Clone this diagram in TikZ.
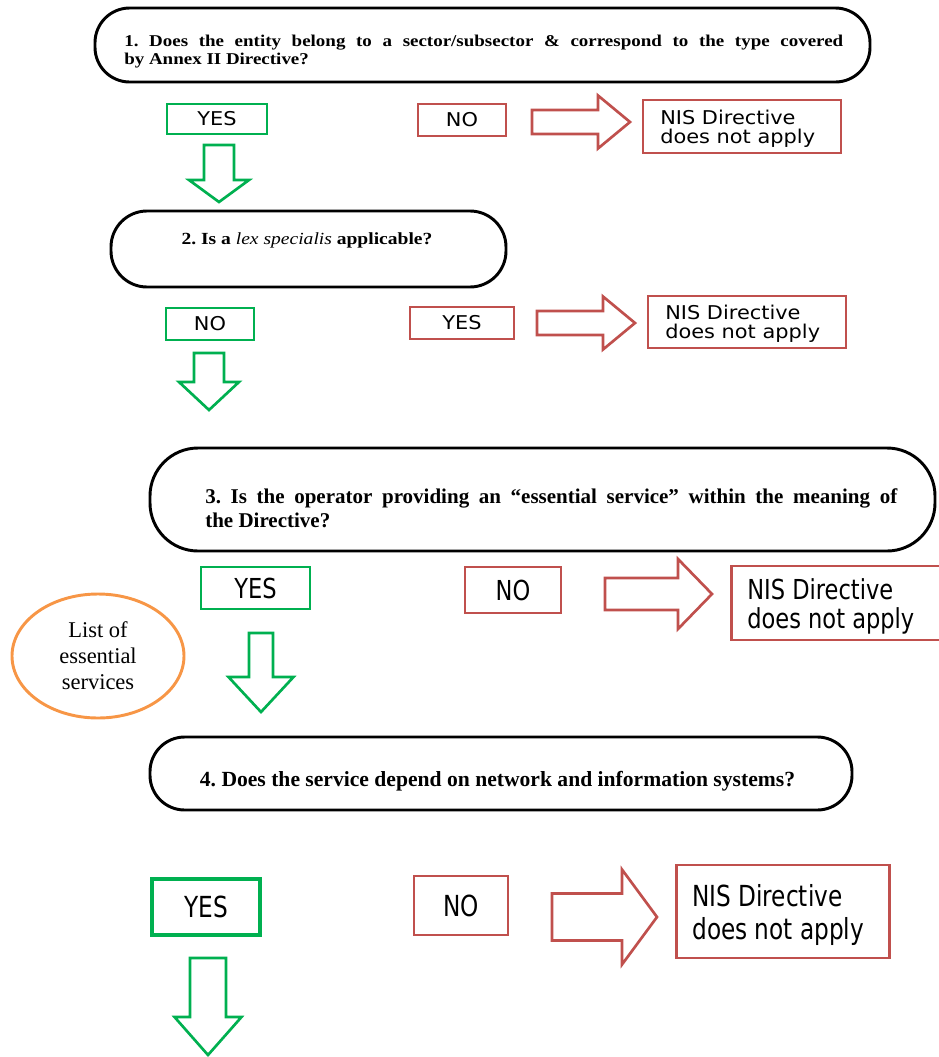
\documentclass[tikz,border=0pt]{standalone}
\usepackage{fontspec}
\setmainfont{Liberation Serif}
\newfontfamily\wideserif[FakeStretch=1.15]{Liberation Serif}
\newfontfamily\boxsans[FakeStretch=1.1]{DejaVu Sans}
\newfontfamily\boxsansnarrow[FakeStretch=0.82]{DejaVu Sans}
\newfontfamily\boxsanslow[FakeStretch=0.8]{DejaVu Sans}
\usetikzlibrary{shapes.geometric}
\definecolor{okgreen}{RGB}{0,176,80}
\definecolor{nored}{RGB}{192,80,77}
\definecolor{listorange}{RGB}{247,150,70}
\frenchspacing

% font size given in picture pixels (1px = 0.75pt)
\newcommand\pxfont[2]{\fontsize{\dimexpr #1pt*3/4\relax}{\dimexpr #2pt*3/4\relax}\selectfont}

% hollow arrow pointing right: x-start, x-tip, x of head base, y-centre, half shaft, half head
\newcommand\hollowright[7][nored]{%
  \draw[arrowline, draw=#1] ({#2},{#5-#6}) -- ({#4},{#5-#6}) -- ({#4},{#5-#7}) -- ({#3},{#5})
    -- ({#4},{#5+#7}) -- ({#4},{#5+#6}) -- ({#2},{#5+#6}) -- cycle;}
% hollow arrow pointing down: y-start, y-tip, y of head base, x-centre, half shaft, half head
\newcommand\hollowdown[7][okgreen]{%
  \draw[arrowline, draw=#1] ({#5-#6},{#2}) -- ({#5-#6},{#4}) -- ({#5-#7},{#4}) -- ({#5},{#3})
    -- ({#5+#7},{#4}) -- ({#5+#6},{#4}) -- ({#5+#6},{#2}) -- cycle;}

\begin{document}
\begin{tikzpicture}[x=0.75pt,y=-0.75pt,
  question/.style={draw=black, line width=2.2pt, inner sep=0pt},
  greenbox/.style={draw=okgreen, line width=2.2pt, inner sep=0pt, font=\boxsans\pxfont{19}{20}},
  redbox/.style={draw=nored, line width=2.2pt, inner sep=0pt, font=\boxsans\pxfont{19}{20}},
  nisbox/.style={draw=nored, line width=2.2pt, inner sep=0pt},
  nistext/.style={align=left, inner sep=0pt, anchor=west},
  arrowline/.style={line width=2pt, line join=miter, fill=white},
]
\useasboundingbox (0,0) rectangle (939,1057);

% ---------- question 1 ----------
\node[question, rounded corners=26pt, minimum width=581.25pt, minimum height=55.5pt] (q1) at (482.5,45) {};
\node[text width=539.25pt, align=justify, inner sep=0pt, anchor=north west,
      font=\wideserif\bfseries\pxfont{16.5}{18}] (q1t) at (124,35)
  {1. Does the entity belong to a sector/subsector \& correspond to the type covered\linebreak by Annex II Directive?};

\node[greenbox, minimum width=75pt, minimum height=22.5pt] (yes1) at (217,119) {YES};
\node[redbox, minimum width=66pt, minimum height=24pt] (no1) at (462,120) {NO};
\hollowright{532}{630}{598}{122}{12}{26.5}
\node[nisbox, minimum width=148.5pt, minimum height=39.75pt] (nis1) at (742,126.5) {};
\node[nistext, font=\boxsans\pxfont{19}{19}] (nis1t) at (660,128.5) {NIS Directive\\does not apply};
\hollowdown{145}{202}{180}{219}{15}{30}

% ---------- question 2 ----------
\node[question, rounded corners=27pt, minimum width=296.25pt, minimum height=57pt] (q2) at (308.5,249) {};
\node[inner sep=0pt, font=\wideserif\pxfont{17}{18}] (q2t) at (307,240)
  {\textbf{2. Is a} \textit{lex specialis} \textbf{applicable?}};

\node[greenbox, minimum width=66pt, minimum height=24pt] (no2) at (210,324) {NO};
\node[redbox, minimum width=78pt, minimum height=24pt] (yes2) at (462,323) {YES};
\hollowright{537}{635}{603}{323}{12}{26.5}
\node[nisbox, minimum width=148.5pt, minimum height=39pt] (nis2) at (747,322) {};
\node[nistext, font=\boxsans\pxfont{19}{19}] (nis2t) at (665,324) {NIS Directive\\does not apply};
\hollowdown{353}{410}{382}{209}{15}{30}

% ---------- question 3 ----------
\node[question, rounded corners=36pt, minimum width=588.75pt, minimum height=77.25pt] (q3) at (542.5,499.5) {};
\node[text width=519pt, align=justify, inner sep=0pt, anchor=north west,
      font=\bfseries\pxfont{21}{24}] (q3t) at (205,488)
  {3. Is the operator providing an “essential service” within the meaning of\linebreak the Directive?};

\node[greenbox, font=\boxsansnarrow\pxfont{27.5}{29}, minimum width=81.75pt, minimum height=31.5pt] (yes3) at (255.5,588) {YES};
\node[redbox, font=\boxsansnarrow\pxfont{27.5}{29}, minimum width=72pt, minimum height=34.5pt] (no3) at (513,590) {NO};
\hollowright{605}{712}{678}{594}{16}{35}
\node[nisbox, anchor=west, minimum width=177.5pt, minimum height=55.5pt] (nis3) at (730,603) {};
\node[nistext, font=\boxsansnarrow\pxfont{27.5}{29}] (nis3t) at (747,606) {NIS Directive\\does not apply};

\node[draw=listorange, line width=2.2pt, ellipse, minimum width=129pt, minimum height=93pt, inner sep=0pt,
      align=center, font=\pxfont{22.5}{26}] (list) at (98,656)
  {List of\\essential\\services};
\hollowdown{633}{712}{677}{261}{12}{32.5}

% ---------- question 4 ----------
\node[question, rounded corners=26pt, minimum width=526.5pt, minimum height=54.75pt] (q4) at (501,773.5) {};
\node[inner sep=0pt, font=\bfseries\pxfont{21.6}{24}] (q4t) at (497.5,781)
  {4. Does the service depend on network and information systems?};

\node[greenbox, line width=3.6pt, font=\boxsanslow\pxfont{29}{33}, minimum width=81pt, minimum height=42pt] (yes4) at (206,907) {YES};
\node[redbox, font=\boxsanslow\pxfont{29}{33}, minimum width=70.5pt, minimum height=44.25pt] (no4) at (461,905.5) {NO};
\hollowright{552}{657}{622}{917}{23.5}{47.5}
\node[nisbox, anchor=west, minimum width=159.75pt, minimum height=69.75pt] (nis4) at (675,911.5) {};
\node[nistext, font=\boxsanslow\pxfont{29}{33}] (nis4t) at (692,914.5) {NIS Directive\\does not apply};
\hollowdown{958}{1055}{1017}{208}{18}{33.5}
\end{tikzpicture}
\end{document}
